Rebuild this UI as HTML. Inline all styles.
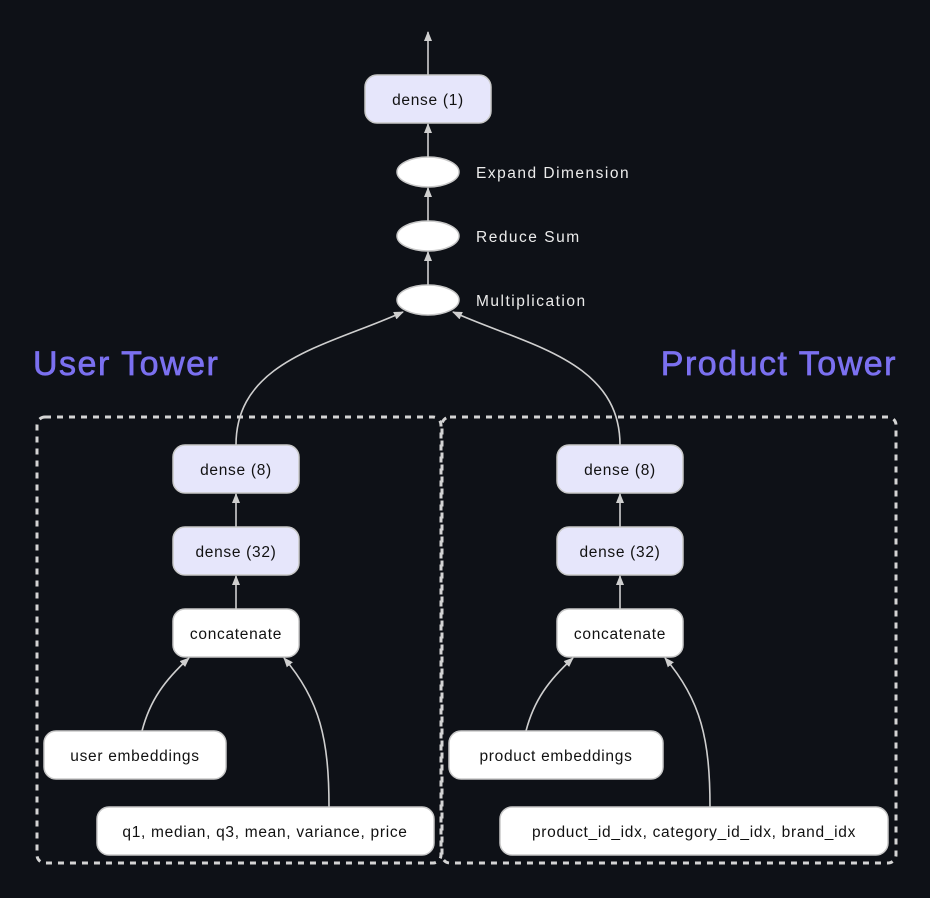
<!DOCTYPE html>
<html><head><meta charset="utf-8"><style>
html,body{margin:0;padding:0;background:#0e1117;}
svg{display:block}
text{font-family:"Liberation Sans",sans-serif;}
</style></head><body>
<svg width="930" height="898" viewBox="0 0 930 898" xmlns="http://www.w3.org/2000/svg">
<defs>
<marker id="a" viewBox="0 0 10 8" refX="9" refY="4" markerWidth="10" markerHeight="8" orient="auto-start-reverse" markerUnits="userSpaceOnUse">
<path d="M0,0 L10,4 L0,8 z" fill="#cfcfcf"/>
</marker>
</defs>
<rect width="930" height="898" fill="#0e1117"/>
<rect x="37" y="417" width="404" height="446" rx="8" fill="none" stroke="#d4d4d4" stroke-width="3" stroke-dasharray="6,6"/>
<rect x="442" y="417" width="454" height="446" rx="8" fill="none" stroke="#d4d4d4" stroke-width="3" stroke-dasharray="6,6"/>
<g stroke="#cfcfcf" stroke-width="1.6" fill="none">
<line x1="428" y1="75" x2="428" y2="32" marker-end="url(#a)"/>
<line x1="428" y1="157" x2="428" y2="124" marker-end="url(#a)"/>
<line x1="428" y1="221" x2="428" y2="188" marker-end="url(#a)"/>
<line x1="428" y1="285" x2="428" y2="252" marker-end="url(#a)"/>
<path d="M236,445 C236,360 330,345 403,312" marker-end="url(#a)"/>
<path d="M620,445 C620,360 526,345 453,312" marker-end="url(#a)"/>
<line x1="236" y1="527" x2="236" y2="494" marker-end="url(#a)"/>
<line x1="236" y1="609" x2="236" y2="576" marker-end="url(#a)"/>
<line x1="620" y1="527" x2="620" y2="494" marker-end="url(#a)"/>
<line x1="620" y1="609" x2="620" y2="576" marker-end="url(#a)"/>
<path d="M142,731 C150,700 165,680 189,658" marker-end="url(#a)"/>
<path d="M329,807 C329,740 320,700 284,658" marker-end="url(#a)"/>
<path d="M526,731 C534,700 549,680 573,658" marker-end="url(#a)"/>
<path d="M710,807 C710,740 701,700 665,658" marker-end="url(#a)"/>
</g>
<g stroke="#c8c8c8" stroke-width="1.5">
<rect x="365" y="75" width="126" height="48" rx="12" fill="#e6e6fb"/>
<ellipse cx="428" cy="172" rx="31" ry="15" fill="#fff"/>
<ellipse cx="428" cy="236" rx="31" ry="15" fill="#fff"/>
<ellipse cx="428" cy="300" rx="31" ry="15" fill="#fff"/>
<rect x="173" y="445" width="126" height="48" rx="12" fill="#e6e6fb"/>
<rect x="173" y="527" width="126" height="48" rx="12" fill="#e6e6fb"/>
<rect x="173" y="609" width="126" height="48" rx="12" fill="#fff"/>
<rect x="44" y="731" width="182" height="48" rx="12" fill="#fff"/>
<rect x="97" y="807" width="337" height="48" rx="12" fill="#fff"/>
<rect x="557" y="445" width="126" height="48" rx="12" fill="#e6e6fb"/>
<rect x="557" y="527" width="126" height="48" rx="12" fill="#e6e6fb"/>
<rect x="557" y="609" width="126" height="48" rx="12" fill="#fff"/>
<rect x="449" y="731" width="214" height="48" rx="12" fill="#fff"/>
<rect x="500" y="807" width="388" height="48" rx="12" fill="#fff"/>
</g>
<g font-size="15.5" fill="#111" text-anchor="middle" letter-spacing="0.7">
<text x="428" y="105">dense (1)</text>
<text x="236" y="475">dense (8)</text>
<text x="236" y="557">dense (32)</text>
<text x="236" y="639">concatenate</text>
<text x="135" y="761">user embeddings</text>
<text x="265" y="837">q1, median, q3, mean, variance, price</text>
<text x="620" y="475">dense (8)</text>
<text x="620" y="557">dense (32)</text>
<text x="620" y="639">concatenate</text>
<text x="556" y="761">product embeddings</text>
<text x="694" y="837">product_id_idx, category_id_idx, brand_idx</text>
</g>
<g font-size="15.5" fill="#ececec" letter-spacing="1.5">
<text x="476" y="178">Expand Dimension</text>
<text x="476" y="242">Reduce Sum</text>
<text x="476" y="306">Multiplication</text>
</g>
<g font-size="34" fill="#7b70f0" stroke="#7b70f0" stroke-width="0.7" letter-spacing="1.5">
<text x="33" y="375">User Tower</text>
<text x="897" y="375" text-anchor="end">Product Tower</text>
</g>
</svg>
</body></html>
